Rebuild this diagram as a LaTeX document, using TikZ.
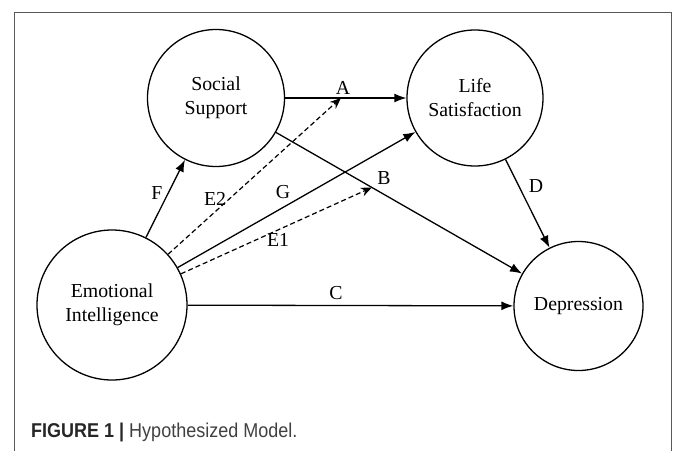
\documentclass[tikz,border=0pt]{standalone}
\usepackage{fontspec}
\setmainfont{Liberation Serif}
\setsansfont{Liberation Sans}
\newfontfamily\capfont[FakeStretch=0.9]{Liberation Sans}
\usetikzlibrary{arrows.meta}

\begin{document}
\begin{tikzpicture}[x=1pt,y=-1pt]
\tikzstyle{every node}+=[inner sep=0pt]
\tikzstyle{var}=[draw,circle,line width=1.3pt,align=center,font=\fontsize{19.8}{24}\selectfont]
\tikzstyle{direct}=[line width=1.3pt,-{Latex[length=12pt,width=9pt]}]
\tikzstyle{moderate}=[line width=1.2pt,dash pattern=on 5pt off 3pt,-{Stealth[length=11pt,width=9pt]}]
\tikzstyle{lbl}=[font=\fontsize{19.8}{24}\selectfont]
\useasboundingbox (0,0) rectangle (673,451);
\draw [black!65, line width=1pt] (14,451) -- (14,12) -- (671,12) -- (671,451);
\node [var,minimum size=137pt] (ss) at (216,98) {Social\\Support};
\node [var,minimum size=136pt] (ls) at (475,98) {Life\\Satisfaction};
\node [var,minimum size=150pt] (ei) at (112,305) {Emotional\\Intelligence};
\node [var,minimum size=129pt] (dep) at (578.5,306) {Depression};
\draw [direct] (ss) -- coordinate[pos=0.46] (atA) (ls);
\draw [direct] (ss) -- coordinate[pos=0.39] (atB) (dep);
\draw [direct] (ei) -- (dep);
\draw [direct] (ls) -- (dep);
\draw [direct] (ei) -- (ss);
\draw [direct] (ei) -- (ls);
\draw [moderate] (ei) -- (atA);
\draw [moderate] (ei) -- (atB);
\node [lbl] (labA) at (343,88) {A};
\node [lbl] (labB) at (384,178) {B};
\node [lbl] (labC) at (336,293) {C};
\node [lbl] (labD) at (536,186) {D};
\node [lbl] (labE1) at (278,240) {E1};
\node [lbl] (labE2) at (215,199) {E2};
\node [lbl] (labF) at (157,193) {F};
\node [lbl] (labG) at (283,192) {G};
\node [anchor=base west,font=\capfont\fontsize{20}{22}\selectfont,text=black!85] (cap) at (31,437) {\textbf{FIGURE 1 |} \textcolor{black!75}{Hypothesized Model.}};
\end{tikzpicture}
\end{document}
